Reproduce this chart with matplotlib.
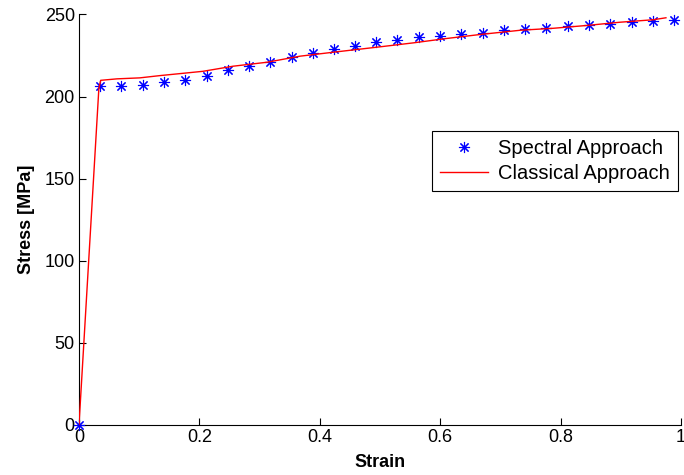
import matplotlib
matplotlib.use("Agg")
import matplotlib.pyplot as plt

# Spectral approach (markers)
spectral_strain = [0.0, 0.035, 0.070, 0.106, 0.141, 0.176, 0.212, 0.247, 0.282, 0.318,
                   0.353, 0.388, 0.424, 0.459, 0.494, 0.529, 0.565, 0.600, 0.635, 0.671,
                   0.706, 0.741, 0.776, 0.812, 0.847, 0.882, 0.918, 0.953, 0.988]
spectral_stress = [0.0, 206.3, 206.3, 207.3, 208.7, 210.4, 212.8, 215.9, 218.9, 221.2,
                   224.0, 226.6, 228.7, 231.1, 233.1, 234.3, 236.2, 237.2, 238.4, 238.8,
                   240.4, 241.2, 241.6, 242.7, 243.5, 244.5, 245.3, 245.9, 246.8]

# Classical approach (line)
classical_strain = [0.0, 0.033, 0.036, 0.063, 0.101, 0.135, 0.168, 0.206, 0.256, 0.312,
                    0.367, 0.422, 0.500, 0.555, 0.611, 0.666, 0.733, 0.788, 0.843, 0.899,
                    0.954, 0.975]
classical_stress = [0.0, 205.0, 209.9, 210.8, 211.4, 212.8, 214.0, 215.4, 218.5, 220.9,
                    224.6, 227.0, 230.3, 232.7, 235.4, 237.8, 240.4, 241.6, 243.3, 245.3,
                    246.8, 248.0]

x_ticks = [0, 0.2, 0.4, 0.6, 0.8, 1]
x_ticklabels = ["0", "0.2", "0.4", "0.6", "0.8", "1"]
y_ticks = [0, 50, 100, 150, 200, 250]

plt.rcParams['font.family'] = ['Liberation Sans', 'DejaVu Sans']

fig = plt.figure(figsize=(6.84, 4.75), dpi=100)
ax = fig.add_axes([0.1155, 0.1053, 0.8801, 0.8642])

ax.plot(spectral_strain, spectral_stress, linestyle='none', marker=(8, 2, 0),
        markersize=8, markeredgewidth=0.8, color=(0, 0, 1), label='Spectral Approach',
        clip_on=False, zorder=3)
ax.plot(classical_strain, classical_stress, color=(1, 0, 0), linewidth=1.0,
        label='Classical Approach', zorder=4)

ax.set_xlim(0, 1)
ax.set_ylim(0, 250)
ax.set_xticks(x_ticks)
ax.set_xticklabels(x_ticklabels)
ax.set_yticks(y_ticks)
ax.tick_params(direction='in', length=5, width=0.8, labelsize=13, pad=3)
for s in ['top', 'right']:
    ax.spines[s].set_visible(False)
for s in ['left', 'bottom']:
    ax.spines[s].set_linewidth(0.8)

ax.set_xlabel('Strain', fontsize=13, fontweight='bold', labelpad=6)
ax.set_ylabel('Stress [MPa]', fontsize=13, fontweight='bold', labelpad=7)

leg = ax.legend(loc='upper left', bbox_to_anchor=(0.586, 0.717), fontsize=14.5,
                frameon=True, fancybox=False, edgecolor='black', framealpha=1,
                handlelength=2.4, borderpad=0.4, labelspacing=0.3, handletextpad=0.5,
                borderaxespad=0)
leg.get_frame().set_linewidth(0.8)

fig.savefig('out.png', dpi=100)
